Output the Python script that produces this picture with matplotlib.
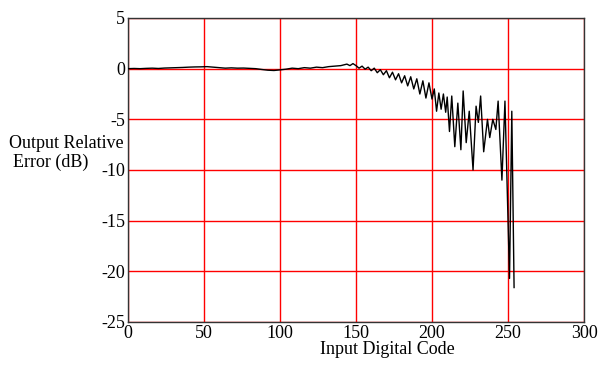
import numpy as np
import matplotlib.pyplot as plt

plt.rcParams['font.family'] = ['Liberation Serif', 'DejaVu Serif']
plt.rcParams['axes.unicode_minus'] = False

# valori: codice di ingresso e errore relativo in dB
codice = [0, 4, 8, 12, 16, 20, 24, 28, 32, 36, 40, 44, 48, 52, 56, 60, 64, 68, 72, 76,
          80, 84, 88, 92, 96, 100, 104, 108, 112, 116, 120, 124, 128, 132, 136, 140, 144, 146, 148, 150,
          152, 154, 156, 158, 160, 162, 164, 166, 168, 170, 172, 174, 176, 178, 180, 182, 184, 186, 188, 190,
          192, 194, 196, 198, 200, 201.5, 203, 204.5, 206, 207.5, 209, 210, 211.5, 213, 215, 217, 219, 220.5,
          222.5, 224.5, 227, 229, 230.5, 232, 234, 236.5, 238, 240, 242, 243.5, 246, 248, 251, 252.5, 254]
errore_db = [0.0, 0.02, 0.0, 0.03, 0.05, 0.02, 0.06, 0.08, 0.1, 0.12, 0.15, 0.17, 0.18, 0.2, 0.15, 0.1, 0.05, 0.08, 0.05, 0.06,
             0.03, 0.0, -0.08, -0.15, -0.18, -0.12, -0.05, 0.05, 0.0, 0.1, 0.05, 0.15, 0.1, 0.2, 0.25, 0.3, 0.45, 0.3, 0.5, 0.3,
             0.05, 0.25, -0.05, 0.15, -0.2, 0.05, -0.4, -0.1, -0.6, -0.2, -0.9, -0.35, -1.1, -0.5, -1.4, -0.7, -1.7, -0.8, -2.0, -1.0,
             -2.5, -1.2, -2.9, -1.4, -3.0, -2.0, -4.2, -2.4, -4.0, -2.5, -4.3, -2.8, -6.2, -2.7, -7.7, -3.4, -8.0, -2.2,
             -7.3, -4.2, -10.0, -3.7, -5.3, -2.7, -8.2, -5.0, -6.8, -5.0, -6.0, -3.2, -11.0, -3.2, -20.7, -4.2, -21.6]

x_ticks = [0, 50, 100, 150, 200, 250, 300]
y_ticks = [-25, -20, -15, -10, -5, 0, 5]

fig = plt.figure(figsize=(6.02, 3.65), dpi=100)
ax = fig.add_axes([128 / 602, 1 - 322 / 365, 456 / 602, 304 / 365])

ax.plot(codice, errore_db, color='black', linewidth=1, zorder=3)

ax.set_xlim(0, 300)
ax.set_ylim(-25, 5)
ax.set_xticks(x_ticks)
ax.set_yticks(y_ticks)
ax.grid(True, color='red', linewidth=1)
ax.tick_params(length=0, labelsize=13, pad=2)
for s in ax.spines.values():
    s.set_color('#333333')
    s.set_linewidth(1)

# etichetta asse y su due righe, orizzontale a sinistra
fig.text(9 / 602, 1 - 148 / 365, 'Output Relative', ha='left', va='baseline', fontsize=13)
fig.text(13 / 602, 1 - 167 / 365, 'Error (dB)', ha='left', va='baseline', fontsize=13)
fig.text(387 / 602, 1 - 354 / 365, 'Input Digital Code', ha='center', va='baseline', fontsize=13)

fig.savefig('out.png', dpi=100)
